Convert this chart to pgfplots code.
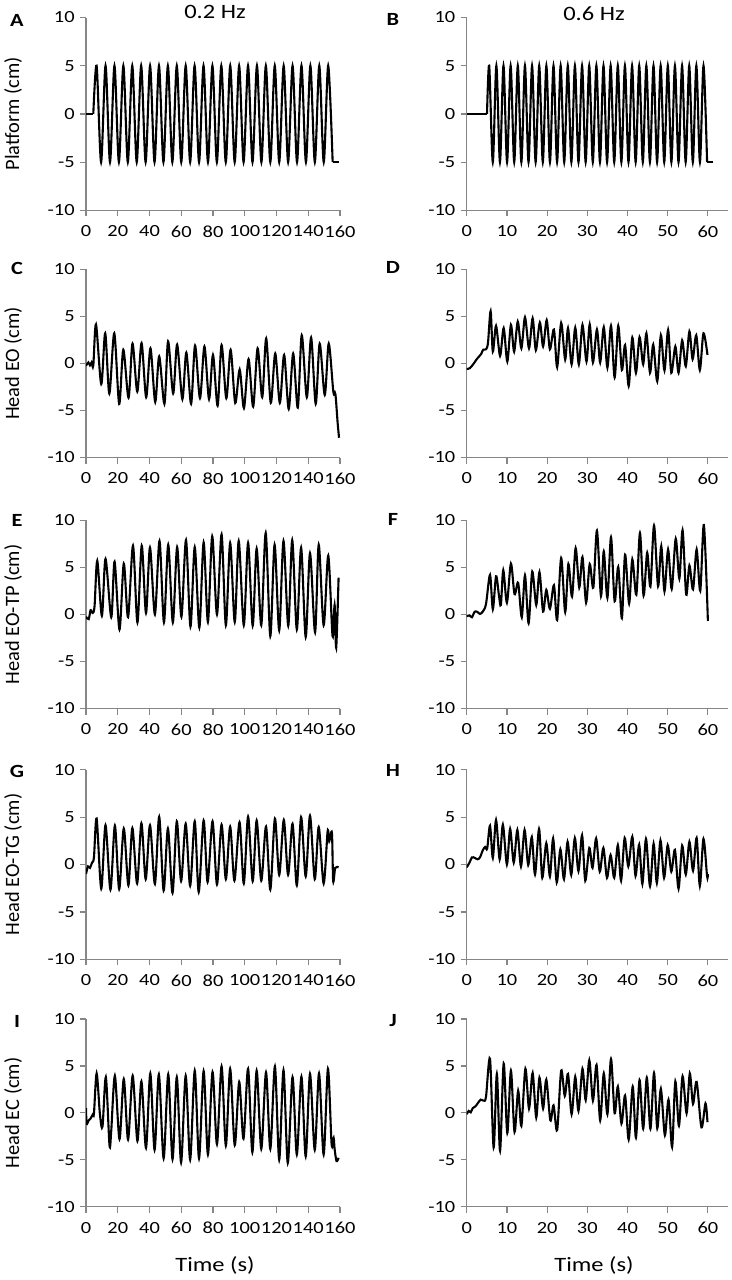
\documentclass[border=0pt]{standalone}
\usepackage{fontspec}
\setmainfont{Carlito}[FakeStretch=1.2]
\newfontfamily\ylf{Carlito}
\usepackage{pgfplots}
\pgfplotsset{compat=1.18}
\definecolor{axgray}{RGB}{134,134,134}
\pgfplotsset{
 panel/.style={
  scale only axis, anchor=south west,
  axis x line*=bottom, axis y line*=left,
  axis line style={axgray, line width=0.6pt, -},
  every tick/.style={axgray, line width=0.6pt},
  tick align=outside, major tick length=3pt,
  ymin=-10, ymax=10, ytick={-10,-5,0,5,10}, yticklabels={-10,-5,0,5,10},
  tick label style={font=\fontsize{8.5}{10}\selectfont, text=black, inner sep=0pt},
  yticklabel style={anchor=east, xshift=-2.5pt},
  xticklabel style={anchor=north, yshift=-4.5pt},
 },
 leftp/.style={panel, width=127pt, xmin=0, xmax=160, xtick={0,20,...,160}, xticklabels={0,20,40,60,80,100,120,140,160}},
 rightp/.style={panel, width=130.65pt, xmin=0, xmax=65, xtick={0,10,...,60}, xticklabels={0,10,20,30,40,50,60}},
 trace/.style={black, line width=1.05pt, smooth, no markers},
 flat/.style={black, line width=1.05pt, no markers},
}
\begin{document}
\begin{tikzpicture}
\path[use as bounding box] (0,0) rectangle (366pt,-640pt);
% Row 1
\begin{axis}[leftp, at={(43pt,-105.15pt)}, height=96.4pt]
\addplot[flat] coordinates {(0,0) (4.6,0)};
\addplot[trace] coordinates {(4.6,0) (6.70,5) (9.51,-5) (12.31,5) (15.12,-5) (17.92,5) (20.73,-5) (23.53,5) (26.34,-5) (29.14,5) (31.95,-5) (34.75,5) (37.56,-5) (40.36,5) (43.17,-5) (45.97,5) (48.78,-5) (51.58,5) (54.39,-5) (57.19,5) (60.00,-5) (62.80,5) (65.61,-5) (68.41,5) (71.22,-5) (74.02,5) (76.83,-5) (79.63,5) (82.44,-5) (85.24,5) (88.05,-5) (90.85,5) (93.66,-5) (96.46,5) (99.27,-5) (102.07,5) (104.88,-5) (107.68,5) (110.49,-5) (113.29,5) (116.10,-5) (118.90,5) (121.71,-5) (124.51,5) (127.32,-5) (130.12,5) (132.93,-5) (135.73,5) (138.54,-5) (141.34,5) (144.15,-5) (146.95,5) (149.76,-5) (152.56,5) (155.37,-5)};
\addplot[flat] coordinates {(155.37,-5) (159.6,-5)};
\end{axis}
\begin{axis}[rightp, at={(233.35pt,-105.15pt)}, height=96.4pt]
\addplot[flat] coordinates {(0,0) (5.05,0)};
\addplot[trace] coordinates {(5.05,0) (5.60,5) (6.49,-5) (7.38,5) (8.27,-5) (9.15,5) (10.04,-5) (10.93,5) (11.82,-5) (12.71,5) (13.60,-5) (14.49,5) (15.38,-5) (16.26,5) (17.15,-5) (18.04,5) (18.93,-5) (19.82,5) (20.71,-5) (21.59,5) (22.48,-5) (23.37,5) (24.26,-5) (25.15,5) (26.04,-5) (26.92,5) (27.81,-5) (28.70,5) (29.59,-5) (30.48,5) (31.37,-5) (32.26,5) (33.15,-5) (34.03,5) (34.92,-5) (35.81,5) (36.70,-5) (37.59,5) (38.48,-5) (39.36,5) (40.25,-5) (41.14,5) (42.03,-5) (42.92,5) (43.81,-5) (44.69,5) (45.58,-5) (46.47,5) (47.36,-5) (48.25,5) (49.14,-5) (50.03,5) (50.92,-5) (51.80,5) (52.69,-5) (53.58,5) (54.47,-5) (55.36,5) (56.25,-5) (57.13,5) (58.02,-5) (58.91,5) (59.80,-5)};
\addplot[flat] coordinates {(59.80,-5) (61.3,-5)};
\end{axis}
% Row 2
\begin{axis}[leftp, at={(43pt,-228.75pt)}, height=94.1pt]
\addplot[trace] coordinates {(0,-0.25) (1.5,0.1) (2.5,-0.2) (3.5,0.1) (4.6,-0.2) (6.3,4.15) (9.6,-2.2) (12.1,3.2) (14.7,-3.2) (17.8,3.2) (20.9,-4.3) (23.5,1.45) (26.8,-3.65) (29.3,2.1) (32.3,-3.0) (35.0,2.15) (37.9,-3.6) (40.6,1.6) (43.6,-4.1) (46.1,0.75) (49.4,-4.3) (51.7,2.35) (54.9,-3.2) (57.4,2.0) (60.7,-3.8) (63.2,1.15) (66.2,-4.3) (68.7,1.9) (71.8,-3.7) (74.6,1.8) (77.5,-3.8) (80.0,0.9) (82.9,-4.5) (85.4,1.95) (88.4,-3.7) (91.1,1.45) (94.0,-4.2) (96.8,-0.65) (99.5,-4.75) (102.4,0.45) (105.3,-4.6) (108.1,1.6) (111.0,-3.6) (113.5,2.65) (116.4,-4.2) (119.2,1.05) (122.1,-4.2) (124.8,0.9) (127.7,-4.85) (130.5,1.05) (133.4,-4.7) (135.9,3.0) (139.1,-3.6) (141.8,2.75) (144.7,-4.3) (147.2,2.1) (150.4,-3.35) (152.9,2.1) (155.8,-3.0) (157.1,-3.25) (158.5,-6.3) (159.4,-7.9)};
\end{axis}
\begin{axis}[rightp, at={(233.35pt,-228.75pt)}, height=94.1pt]
\addplot[trace] coordinates {(0,-0.6) (0.8,-0.5) (1.65,-0.07) (2.5,0.45) (3.1,0.75) (3.6,1.0) (4.1,1.45) (4.8,1.5) (5.3,2.2) (5.95,5.55) (6.5,1.25) (7.3,4.0) (8.3,0.8) (9.2,3.75) (10.1,0.2) (11.0,4.1) (11.8,1.25) (12.7,4.45) (13.6,1.6) (14.5,4.9) (15.5,1.6) (16.4,4.8) (17.2,1.4) (18.2,4.35) (19.0,1.8) (19.9,4.6) (20.7,1.5) (21.7,3.6) (22.5,-0.4) (23.5,4.3) (24.5,0.4) (25.2,3.75) (26.1,-0.1) (27.0,3.8) (27.9,-0.1) (28.8,4.1) (29.8,0.2) (30.6,4.15) (31.4,0.1) (32.4,3.6) (33.2,0.1) (34.1,3.85) (35.0,-0.45) (35.9,4.0) (36.8,-1.5) (37.7,4.0) (38.6,-0.7) (39.4,1.95) (40.3,-2.4) (41.2,2.75) (42.1,-1.0) (43.0,2.8) (43.9,-0.1) (44.7,3.2) (45.6,-1.0) (46.4,2.0) (47.4,-1.9) (48.3,3.0) (49.2,-0.75) (50.1,3.55) (50.9,-1.0) (51.9,1.8) (52.7,-1.0) (53.6,2.45) (54.5,-0.3) (55.4,3.4) (56.2,0.45) (57.1,3.0) (58.0,-0.7) (58.9,3.2) (59.9,0.9)};
\end{axis}
% Row 3
\begin{axis}[leftp, at={(43pt,-354.25pt)}, height=94.1pt]
\addplot[trace] coordinates {(0,-0.25) (1.7,-0.5) (2.9,0.45) (4.2,0.15) (5.4,0.9) (7.1,5.7) (10.0,-0.15) (12.3,5.9) (15.9,-0.3) (18.0,5.6) (21.1,-1.6) (23.8,5.4) (26.5,-0.3) (29.6,7.3) (32.4,-0.85) (35.1,7.3) (37.8,0.15) (40.3,7.1) (43.4,0) (46.3,7.8) (49.1,-0.85) (51.8,7.4) (54.7,-0.85) (57.4,7.15) (60.1,-0.25) (63.0,7.9) (65.8,-1.3) (68.5,7.15) (71.4,-1.4) (74.1,7.65) (76.8,-0.8) (79.5,8.3) (82.5,0) (85.4,8.5) (88.1,-1.15) (90.8,7.6) (93.7,-0.8) (96.2,7.8) (99.4,-1.15) (102.1,7.6) (105.0,-1.2) (107.5,7.0) (110.4,-1.15) (113.2,8.65) (116.1,-2.3) (118.8,7.4) (121.7,-1.7) (124.4,7.8) (127.4,-1.2) (129.9,7.9) (132.8,-1.6) (135.5,7.1) (138.4,-2.4) (141.1,6.5) (144.3,-1.9) (146.6,7.4) (149.7,-1.15) (152.6,6.25) (155.3,-2.3) (156.6,1.0) (157.6,-3.55) (159.1,3.9)};
\end{axis}
\begin{axis}[rightp, at={(233.35pt,-354.25pt)}, height=94.1pt]
\addplot[trace] coordinates {(0,-0.2) (0.7,-0.1) (1.3,-0.3) (2.0,0.3) (2.7,0.25) (3.3,0.05) (4.0,0.3) (4.8,1.1) (5.8,4.2) (6.5,0.55) (7.3,4.05) (8.0,2.1) (8.5,1.0) (9.1,4.7) (10.0,1.25) (11.0,5.4) (11.9,2.15) (12.8,3.35) (13.7,-0.3) (14.5,4.15) (15.4,-0.95) (16.3,4.55) (17.3,1.0) (18.1,4.5) (19.0,0.3) (19.8,2.6) (20.7,0.6) (21.7,3.1) (22.5,-0.6) (23.5,6.0) (24.5,0.25) (25.3,5.35) (26.2,1.9) (27.1,7.05) (28.0,2.85) (28.8,6.1) (29.7,1.25) (30.6,5.35) (31.5,2.85) (32.4,8.9) (33.4,1.95) (34.1,6.7) (35.0,1.75) (35.9,8.2) (36.8,1.4) (37.7,5.05) (38.6,-0.4) (39.4,6.35) (40.4,1.15) (41.2,5.85) (42.2,2.1) (43.1,8.65) (44.0,2.0) (44.9,6.55) (45.7,2.95) (46.6,9.45) (47.6,3.0) (48.4,7.25) (49.2,2.45) (50.1,6.9) (51.0,2.7) (52.0,8.05) (52.9,3.8) (53.7,8.95) (54.6,2.1) (55.4,5.2) (56.3,2.65) (57.2,6.9) (58.1,2.5) (59.0,9.5) (60.0,-0.7)};
\end{axis}
% Row 4
\begin{axis}[leftp, at={(43pt,-479.65pt)}, height=94.8pt]
\addplot[trace] coordinates {(0,-1.0) (1.25,-0.2) (2.5,-0.35) (3.8,0.2) (5.0,0.75) (6.7,4.85) (9.6,-2.55) (12.3,4.15) (15.4,-2.65) (18.2,4.1) (20.9,-2.6) (23.8,3.8) (26.7,-2.2) (29.2,3.85) (32.2,-2.0) (34.9,4.35) (37.6,-1.55) (40.3,4.15) (43.4,-2.05) (46.1,5.05) (48.9,-2.75) (51.6,3.8) (54.5,-3.0) (57.2,4.55) (59.9,-1.75) (62.8,4.3) (65.6,-2.25) (68.5,4.55) (71.0,-2.9) (74.1,4.65) (76.6,-1.85) (79.7,4.55) (82.5,-2.1) (85.4,4.2) (88.1,-1.55) (90.8,4.0) (93.5,-1.7) (96.7,4.45) (99.4,-2.0) (102.1,5.05) (105.0,-1.75) (107.5,4.65) (110.4,-1.7) (113.4,4.0) (116.1,-2.65) (119.0,4.85) (121.7,-1.1) (124.6,4.7) (127.3,-1.1) (130.1,4.3) (132.8,-2.2) (135.5,5.0) (138.4,-1.25) (141.1,5.15) (144.1,-1.55) (146.6,3.95) (149.7,-2.0) (152.2,3.5) (153.2,2.45) (154.9,3.35) (155.7,-1.75) (157.0,-0.35) (159.1,-0.3)};
\end{axis}
\begin{axis}[rightp, at={(233.35pt,-479.65pt)}, height=94.8pt]
\addplot[trace] coordinates {(0,-0.3) (0.7,0.2) (1.3,0.75) (2.0,0.7) (2.7,0.55) (3.3,0.75) (4.0,1.5) (4.6,1.85) (5.1,1.7) (5.8,4.1) (6.5,0.7) (7.3,4.7) (8.2,0.55) (9.0,4.2) (10.0,0) (10.8,3.75) (11.7,0.2) (12.6,3.65) (13.5,-0.2) (14.4,3.65) (15.3,-0.05) (16.2,2.9) (17.0,-1.05) (18.0,3.75) (18.8,-1.4) (19.8,2.25) (20.7,-1.25) (21.5,2.75) (22.4,-1.9) (23.3,1.6) (24.2,-1.55) (25.1,2.4) (26.0,-1.1) (26.9,2.8) (27.8,-0.7) (28.7,3.1) (29.5,-1.7) (30.5,1.75) (31.3,-0.35) (32.2,2.75) (33.1,-0.75) (34.0,1.75) (34.9,-1.4) (35.8,1.0) (36.7,-1.4) (37.6,2.05) (38.4,-1.7) (39.3,2.8) (40.2,-0.2) (41.2,2.95) (42.0,-1.2) (42.9,2.1) (43.7,-2.05) (44.6,2.7) (45.6,-2.3) (46.5,2.2) (47.3,-1.95) (48.2,2.55) (49.1,-1.4) (50.0,2.05) (50.9,-0.75) (51.8,1.55) (52.7,-2.55) (53.6,2.0) (54.5,-1.05) (55.4,2.4) (56.3,-0.65) (57.2,2.8) (58.0,-2.25) (58.9,2.7) (59.8,-1.25) (60.0,-1.0)};
\end{axis}
% Row 5
\begin{axis}[leftp, at={(43pt,-603.3pt)}, height=93.8pt]
\addplot[trace] coordinates {(0,0.5) (0.4,-1.15) (1.7,-0.8) (2.9,-0.6) (4.2,-0.2) (5.0,-0.1) (6.7,4.2) (8.8,-0.2) (10.4,-1.45) (12.5,3.8) (14.8,-3.45) (15.9,-1.9) (18.2,3.95) (21.1,-2.8) (23.8,3.6) (26.5,-2.85) (29.4,3.95) (32.4,-3.0) (34.9,3.35) (37.8,-3.75) (40.5,4.2) (43.2,-3.95) (45.9,4.1) (48.9,-4.85) (51.8,4.1) (54.5,-4.95) (57.2,3.8) (59.9,-5.3) (62.8,3.95) (65.6,-5.0) (68.5,4.5) (71.2,-4.85) (74.1,4.45) (76.8,-4.45) (79.7,4.35) (82.5,-3.35) (85.4,4.95) (88.1,-3.5) (90.8,4.7) (93.7,-3.45) (96.5,3.3) (99.2,-2.75) (102.1,4.7) (104.8,-4.2) (107.5,4.5) (110.4,-3.85) (113.4,4.3) (116.1,-3.85) (119.0,4.95) (121.7,-5.0) (124.4,4.55) (127.1,-5.35) (130.1,3.8) (132.8,-4.45) (135.7,3.85) (138.4,-4.65) (141.1,4.15) (144.1,-3.95) (146.8,4.2) (149.7,-4.45) (152.4,4.7) (154.7,-3.3) (156.0,-2.7) (156.6,-3.85) (157.8,-5.15) (159.1,-4.8)};
\end{axis}
\begin{axis}[rightp, at={(233.35pt,-603.3pt)}, height=93.8pt]
\addplot[trace] coordinates {(0,-0.15) (0.5,0.2) (1.0,0.05) (1.5,0.5) (2.2,0.7) (2.8,1.05) (3.5,1.4) (4.2,1.3) (4.8,1.7) (5.8,5.75) (6.7,-3.7) (7.5,4.15) (8.3,-4.05) (9.2,5.25) (10.1,-2.15) (11.0,4.5) (11.9,-2.05) (12.8,2.35) (13.6,-1.4) (14.6,4.7) (15.5,0.45) (16.4,4.25) (17.3,-0.5) (18.1,3.75) (19.0,0.45) (19.8,3.55) (20.8,-0.8) (21.6,0.8) (22.5,-1.85) (23.5,4.5) (24.4,1.8) (25.2,4.15) (26.1,-0.15) (27.0,3.85) (27.8,0.2) (28.8,4.7) (29.6,1.35) (30.5,5.6) (31.4,1.3) (32.3,5.1) (33.2,-0.8) (34.1,4.2) (35.0,-0.15) (35.9,5.75) (36.8,-0.05) (37.6,2.8) (38.5,-1.15) (39.4,1.85) (40.3,-2.85) (41.3,2.8) (42.1,-2.65) (43.0,3.5) (43.9,-1.7) (44.8,3.75) (45.7,-1.7) (46.6,4.25) (47.4,-1.65) (48.3,2.55) (49.3,-2.4) (50.2,1.4) (51.1,-3.65) (51.9,3.35) (52.8,-1.4) (53.7,3.9) (54.7,-0.05) (55.5,4.2) (56.3,0.95) (57.2,3.3) (58.4,-1.55) (59.4,1.0) (59.9,-1.0)};
\end{axis}
% texts
\node[font=\fontsize{10.2}{12}\selectfont] at (107.5pt,-6pt) {0.2 Hz};
\node[font=\fontsize{10.2}{12}\selectfont] at (297pt,-7pt) {0.6 Hz};
\foreach \l/\x/\y in {A/8.5/10, B/196.5/9.5, C/8.5/134, D/196.5/133.5, E/8.5/260, F/196.5/259.5, G/8.5/385.5, H/196.5/385, I/8.5/510.5, J/196.5/510.5}
  \node[font=\bfseries\fontsize{9.3}{11}\selectfont] at (\x pt,-\y pt) {\l};
\foreach \t/\y in {Platform (cm)/56.95, Head EO (cm)/181.7, Head EO-TP (cm)/307.2, Head EO-TG (cm)/432.25, Head EC (cm)/556.4}
  \node[rotate=90, font=\ylf\fontsize{10.2}{12}\selectfont] at (6.5pt,-\y pt) {\t};
\node[font=\fontsize{10.2}{12}\selectfont] at (107.5pt,-632.5pt) {Time (s)};
\node[font=\fontsize{10.2}{12}\selectfont] at (297pt,-632.5pt) {Time (s)};
\end{tikzpicture}
\end{document}
